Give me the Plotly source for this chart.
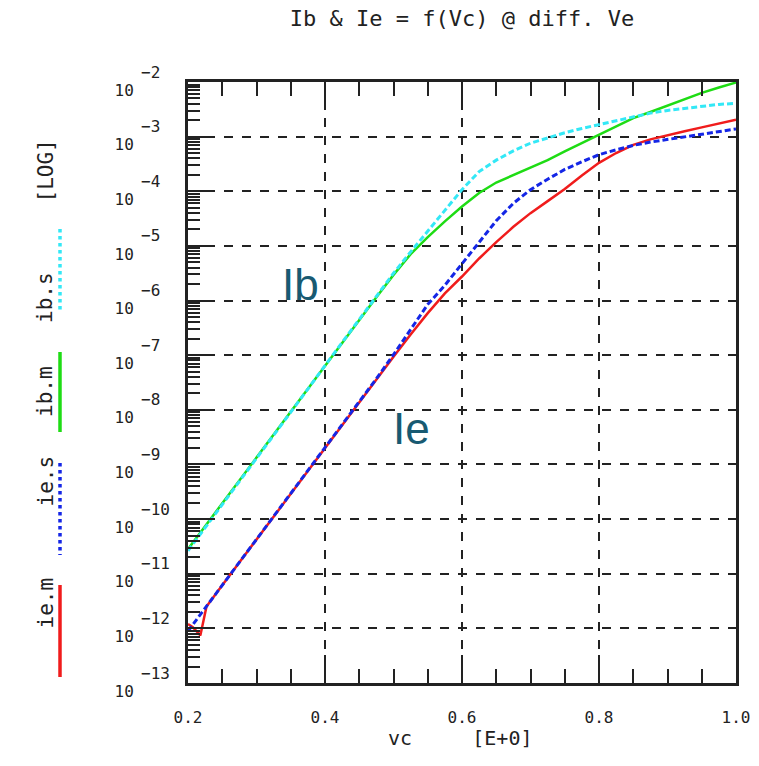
import numpy as np
import plotly.graph_objects as go

# ---------------- data (log10 of current) ----------------
VC = [0.2, 0.225, 0.25, 0.275, 0.3, 0.325, 0.35, 0.375, 0.4, 0.425, 0.45, 0.475,
      0.5, 0.525, 0.55, 0.575, 0.6, 0.625, 0.65, 0.675, 0.7, 0.725, 0.75, 0.775,
      0.8, 0.825, 0.85, 0.875, 0.9, 0.925, 0.95, 0.975, 1.0]

LOG_IB_S = [-10.58, -10.16, -9.74, -9.31, -8.89, -8.47, -8.04, -7.62, -7.19, -6.77, -6.34, -5.92,
            -5.50, -5.11, -4.74, -4.35, -3.97, -3.64, -3.43, -3.26, -3.12, -3.02, -2.93, -2.85,
            -2.78, -2.70, -2.63, -2.57, -2.52, -2.48, -2.44, -2.41, -2.39]

LOG_IB_M = [-10.55, -10.13, -9.70, -9.28, -8.86, -8.44, -8.02, -7.60, -7.18, -6.76, -6.34, -5.94,
            -5.53, -5.15, -4.84, -4.55, -4.28, -4.03, -3.84, -3.70, -3.57, -3.43, -3.27, -3.12,
            -2.97, -2.81, -2.66, -2.55, -2.43, -2.31, -2.20, -2.10, -2.01]

LOG_IE_S = [-12.05, -11.63, -11.21, -10.79, -10.37, -9.95, -9.53, -9.12, -8.70, -8.28, -7.86, -7.43,
            -6.99, -6.53, -6.07, -5.72, -5.33, -4.92, -4.54, -4.22, -3.97, -3.78, -3.60, -3.46,
            -3.33, -3.24, -3.16, -3.10, -3.05, -3.00, -2.95, -2.90, -2.86]

VC_IE_M = [0.2, 0.207, 0.218, 0.227, 0.25, 0.275, 0.3, 0.325, 0.35, 0.375, 0.4, 0.425, 0.45, 0.475,
           0.5, 0.525, 0.55, 0.575, 0.6, 0.625, 0.65, 0.675, 0.7, 0.725, 0.75, 0.775,
           0.8, 0.825, 0.85, 0.875, 0.9, 0.925, 0.95, 0.975, 1.0]
LOG_IE_M = [-11.92, -11.98, -12.13, -11.60, -11.21, -10.79, -10.37, -9.95, -9.53, -9.12, -8.70, -8.28,
            -7.86, -7.44, -7.03, -6.62, -6.23, -5.87, -5.56, -5.23, -4.93, -4.65, -4.40, -4.18,
            -3.96, -3.71, -3.48, -3.30, -3.15, -3.05, -2.97, -2.90, -2.83, -2.76, -2.69]

Y_EXPONENTS = [-2, -3, -4, -5, -6, -7, -8, -9, -10, -11, -12, -13]
TITLE = "Ib & Ie = f(Vc) @ diff. Ve"
X_TITLE = "vc     [E+0]"
Y_UNIT = "[LOG]"

SERIES = [
    # name, x, logy, color, dash, width
    ("ie.m", VC_IE_M, LOG_IE_M, "#f01c1c", "solid", 2.5),
    ("ie.s", VC, LOG_IE_S, "#1426e6", "6px,3px", 3),
    ("ib.m", VC, LOG_IB_M, "#1edc14", "solid", 2.5),
    ("ib.s", VC, LOG_IB_S, "#33e8f6", "6px,3px", 3),
]

MONO = "DejaVu Sans Mono"
INK = "#222222"

fig = go.Figure()
for name, xs, ly, col, dash, w in SERIES:
    fig.add_trace(go.Scatter(x=xs, y=10 ** np.array(ly), mode="lines", name=name,
                             line=dict(color=col, dash=dash, width=w), showlegend=False))

# plot area in pixels: x 188..736, y 82..683
L, R, T, B = 188, 736, 82, 683
W, H = R - L, B - T


def px(xp):
    return (xp - L) / W


def py(yp):
    return (B - yp) / H


# left legend: rotated names with line samples
legend_pos = {"ie.m": (585, 677), "ie.s": (463, 555), "ib.m": (352, 432), "ib.s": (229, 312)}
for name, xs, ly, col, dash, w in SERIES:
    y0, y1 = legend_pos[name]
    fig.add_annotation(x=px(31), y=py((y0 + y1) / 2), xref="paper", yref="paper",
                       text=name, textangle=-90, showarrow=False,
                       font=dict(family=MONO, size=21, color=INK))
    fig.add_shape(type="line", xref="paper", yref="paper", x0=px(60), x1=px(60),
                  y0=py(y0), y1=py(y1),
                  line=dict(color=col, width=3.5, dash="dot" if dash != "solid" else "solid"))
fig.add_annotation(x=px(31), y=py(138), xref="paper", yref="paper", text=Y_UNIT,
                   textangle=-90, showarrow=False, font=dict(family=MONO, size=21, color=INK))

# x-axis title
fig.add_annotation(x=px(460), y=py(752), xref="paper", yref="paper", text=X_TITLE,
                   showarrow=False, font=dict(family=MONO, size=20, color=INK))

# exponents of the y tick labels (raised, to the right of "10")
for e in Y_EXPONENTS:
    fig.add_annotation(x=px(139), y=e, xref="paper", yref="y", yshift=10,
                       text="\u2212%d" % (-e), showarrow=False, xanchor="left",
                       font=dict(family=MONO, size=16, color=INK))

# curve labels
for txt, xv, lv in [("Ib", 0.3635, -5.70), ("Ie", 0.5266, -8.35)]:
    fig.add_annotation(x=xv, y=lv, xref="x", yref="y", text=txt, showarrow=False,
                       font=dict(family="Liberation Sans Narrow, Liberation Sans, Arial", size=44,
                                 color="#185a72"))

fig.update_layout(
    width=759, height=766, autosize=False,
    margin=dict(l=L, r=759 - R, t=T, b=766 - B, autoexpand=False),
    paper_bgcolor="white", plot_bgcolor="white",
    title=dict(text=TITLE, x=0.5, xref="paper", xanchor="center",
               y=1 - 18 / 766, yref="container", yanchor="middle",
               font=dict(family=MONO, size=22, color=INK)),
    xaxis=dict(range=[0.2, 1.0], dtick=0.2, tick0=0.2, tickformat=".1f",
               ticks="inside", ticklen=28, tickwidth=2, tickcolor=INK,
               minor=dict(dtick=0.05, tick0=0.2, ticks="inside", ticklen=14, tickwidth=2,
                          tickcolor=INK, showgrid=False),
               showline=True, linecolor=INK, linewidth=3, mirror="ticks",
               showgrid=True, griddash="dash", gridcolor=INK, gridwidth=1.5,
               tickfont=dict(family=MONO, size=16, color=INK), ticklabelstandoff=18,
               automargin=False, zeroline=False),
    yaxis=dict(type="log", range=[-13, -2],
               tickmode="array", tickvals=[10.0 ** e for e in Y_EXPONENTS],
               ticktext=["10" for e in Y_EXPONENTS],
               ticks="inside", ticklen=26, tickwidth=2, tickcolor=INK,
               minor=dict(dtick="D1", ticks="inside", ticklen=12, tickwidth=2,
                          tickcolor=INK, showgrid=False),
               showline=True, linecolor=INK, linewidth=3, mirror=True,
               showgrid=True, griddash="dash", gridcolor=INK, gridwidth=1.5,
               tickfont=dict(family=MONO, size=16, color=INK), ticklabelstandoff=48,
               ticklabelshift=8, automargin=False, zeroline=False),
)

fig.write_html("out.html")
